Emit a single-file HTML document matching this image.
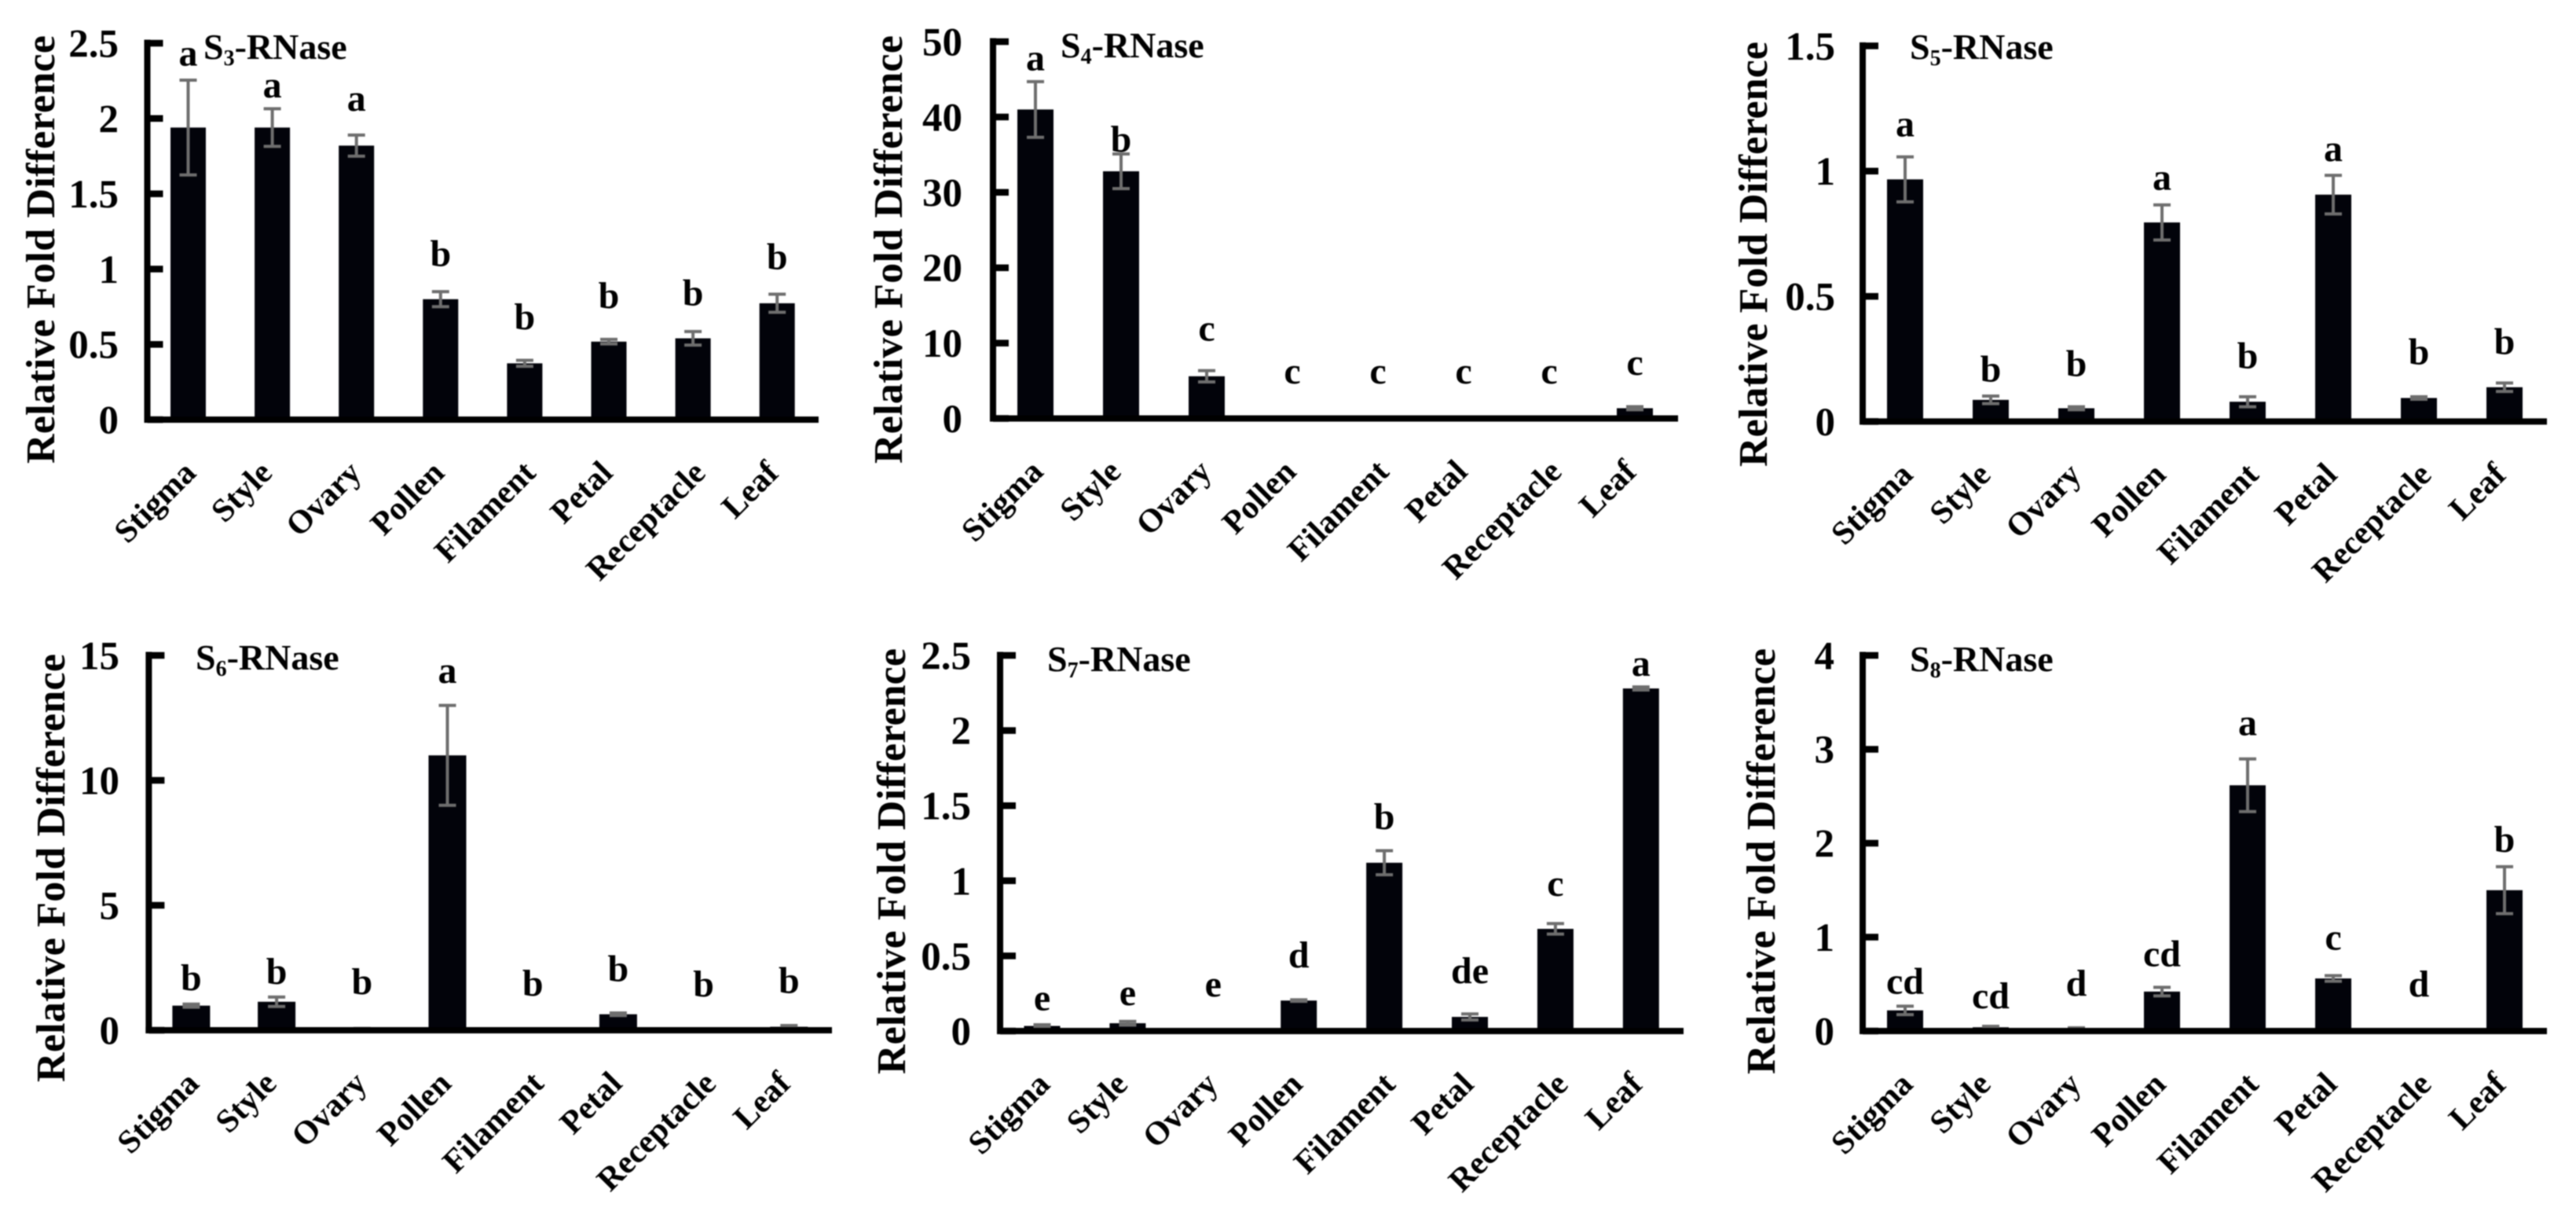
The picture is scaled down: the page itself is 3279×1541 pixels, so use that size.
<!DOCTYPE html>
<html lang="en">
<head>
<meta charset="utf-8">
<title>S-RNase relative expression across tissues</title>
<style>
  html, body { margin: 0; padding: 0; background: #fff; width: 3279px; height: 1541px; overflow: hidden; }
  svg { display: block; filter: blur(0.7px); }
  text { font-family: "Liberation Serif", "Times New Roman", serif; font-weight: bold; fill: #000; }
</style>
</head>
<body>
<svg id="fig" xmlns="http://www.w3.org/2000/svg" width="3279" height="1541" viewBox="0 0 3279 1541"></svg>
<script>
const categories = ["Stigma", "Style", "Ovary", "Pollen", "Filament", "Petal", "Receptacle", "Leaf"];

const s3Ticks = ["0", "0.5", "1", "1.5", "2", "2.5"];
const s3Values = [1.94, 1.94, 1.82, 0.80, 0.374, 0.518, 0.54, 0.773];
const s3Errors = [0.315, 0.125, 0.07, 0.05, 0.02, 0.015, 0.045, 0.06];
const s3Letters = ["a", "a", "a", "b", "b", "b", "b", "b"];
const s3LetterLevels = [2.35, 2.14, 2.05, 1.02, 0.60, 0.74, 0.76, 1.00];

const s4Ticks = ["0", "10", "20", "30", "40", "50"];
const s4Values = [41, 32.8, 5.6, 0, 0, 0, 0, 1.36];
const s4Errors = [3.7, 2.3, 0.75, 0, 0, 0, 0, 0.2];
const s4Letters = ["a", "b", "c", "c", "c", "c", "c", "c"];
const s4LetterLevels = [46.2, 35.4, 10.3, 4.64, 4.64, 4.64, 4.64, 5.8];

const s5Ticks = ["0", "0.5", "1", "1.5"];
const s5Values = [0.967, 0.0865, 0.053, 0.795, 0.079, 0.906, 0.094, 0.137];
const s5Errors = [0.09, 0.015, 0.006, 0.07, 0.02, 0.077, 0.005, 0.017];
const s5Letters = ["a", "b", "b", "a", "b", "a", "b", "b"];
const s5LetterLevels = [1.139, 0.159, 0.182, 0.926, 0.2125, 1.04, 0.228, 0.269];

const s6Ticks = ["0", "5", "10", "15"];
const s6Values = [0.985, 1.14, 0.06, 11.0, 0.03, 0.64, 0.01, 0.14];
const s6Errors = [0.06, 0.19, 0.01, 2.0, 0.01, 0.05, 0, 0.05];
const s6Letters = ["b", "b", "b", "a", "b", "b", "b", "b"];
const s6LetterLevels = [1.6, 1.86, 1.44, 13.9, 1.39, 1.96, 1.36, 1.49];

const s7Ticks = ["0", "0.5", "1", "1.5", "2", "2.5"];
const s7Values = [0.034, 0.052, 0.005, 0.203, 1.12, 0.094, 0.68, 2.28];
const s7Errors = [0.008, 0.012, 0, 0.005, 0.08, 0.02, 0.035, 0.01];
const s7Letters = ["e", "e", "e", "d", "b", "de", "c", "a"];
const s7LetterLevels = [0.138, 0.172, 0.229, 0.424, 1.344, 0.32, 0.90, 2.365];

const s8Ticks = ["0", "1", "2", "3", "4"];
const s8Values = [0.22, 0.04, 0.03, 0.42, 2.617, 0.56, 0, 1.5];
const s8Errors = [0.045, 0.01, 0.005, 0.045, 0.28, 0.03, 0, 0.25];
const s8Letters = ["cd", "cd", "d", "cd", "a", "c", "d", "b"];
const s8LetterLevels = [0.396, 0.242, 0.375, 0.692, 3.15, 0.867, 0.367, 1.908];

const panels = [
  { id: "s3", sub: "3", ticks: s3Ticks, values: s3Values, errors: s3Errors, letters: s3Letters, levels: s3LetterLevels,
    axisX: 187.5, top: 55, base: 534, right: 1042, first: 239.5, step: 107.1, barW: 45,
    tickLabelX: 151, titleX: 69, titleTop: 45, titleBottom: 590, nameX: 259, nameY: 75 },
  { id: "s4", sub: "4", ticks: s4Ticks, values: s4Values, errors: s4Errors, letters: s4Letters, levels: s4LetterLevels,
    axisX: 1264, top: 53, base: 532.5, right: 2136, first: 1318, step: 109, barW: 46,
    tickLabelX: 1225, titleX: 1148, titleTop: 45, titleBottom: 590, nameX: 1350, nameY: 73 },
  { id: "s5", sub: "5", ticks: s5Ticks, values: s5Values, errors: s5Errors, letters: s5Letters, levels: s5LetterLevels,
    axisX: 2371, top: 58.4, base: 536.4, right: 3242, first: 2425, step: 109, barW: 46,
    tickLabelX: 2336, titleX: 2249, titleTop: 53, titleBottom: 594, nameX: 2431, nameY: 75 },
  { id: "s6", sub: "6", ticks: s6Ticks, values: s6Values, errors: s6Errors, letters: s6Letters, levels: s6LetterLevels,
    axisX: 189.4, top: 834, base: 1311, right: 1059, first: 243.4, step: 108.7, barW: 48,
    tickLabelX: 152, titleX: 82, titleTop: 832, titleBottom: 1377, nameX: 249, nameY: 852 },
  { id: "s7", sub: "7", ticks: s7Ticks, values: s7Values, errors: s7Errors, letters: s7Letters, levels: s7LetterLevels,
    axisX: 1273, top: 834, base: 1312, right: 2143, first: 1326.5, step: 108.9, barW: 46,
    tickLabelX: 1236, titleX: 1152, titleTop: 825, titleBottom: 1367, nameX: 1333, nameY: 854 },
  { id: "s8", sub: "8", ticks: s8Ticks, values: s8Values, errors: s8Errors, letters: s8Letters, levels: s8LetterLevels,
    axisX: 2371, top: 834, base: 1312, right: 3242, first: 2425, step: 109, barW: 46,
    tickLabelX: 2335, titleX: 2259, titleTop: 825, titleBottom: 1367, nameX: 2431, nameY: 854 }
];

const labelNudge = [12, 2, 8, 7, 16, 7, 18, 4];
const NS = "http://www.w3.org/2000/svg";
const svg = document.getElementById("fig");

function mk(tag, attrs, parent, txt) {
  const el = document.createElementNS(NS, tag);
  for (const k in attrs) el.setAttribute(k, attrs[k]);
  if (txt !== undefined) el.textContent = txt;
  parent.appendChild(el);
  return el;
}

function drawPanel(p) {
  const maxV = parseFloat(p.ticks[p.ticks.length - 1]);
  const yOf = v => p.base - (v / maxV) * (p.base - p.top);
  const xOf = i => p.first + i * p.step;

  const g = mk("g", {}, svg);
  
  

  // y axis title
  const mid = (p.titleTop + p.titleBottom) / 2;
  const yTitle = mk("text", {
    x: p.titleX, y: mid, "text-anchor": "middle", "font-size": 52,
    textLength: p.titleBottom - p.titleTop, lengthAdjust: "spacing",
    transform: "rotate(-90 " + p.titleX + " " + mid + ")"
  }, g, "Relative Fold Difference");
  
  

  // gene name
  const name = mk("text", { x: p.nameX, y: p.nameY, "font-size": 46 }, g);
  
  
  mk("tspan", {}, name, "S");
  mk("tspan", { "font-size": 28, dy: 8 }, name, p.sub);
  mk("tspan", { dy: -8 }, name, "-RNase");

  // bars
  p.values.forEach((v, i) => {
    const bar = mk("rect", {
      x: xOf(i) - p.barW / 2, y: yOf(v), width: p.barW, height: p.base - yOf(v), fill: "#02030a"
    }, g);
    
    
  });

  // error bars
  p.errors.forEach((e, i) => {
    if (!(e > 0)) return;
    const v = p.values[i];
    const x = xOf(i);
    const err = mk("path", {
      d: "M" + x + " " + yOf(v - e) + "V" + yOf(v + e) +
         "M" + (x - 11) + " " + yOf(v + e) + "H" + (x + 11) +
         "M" + (x - 11) + " " + yOf(v - e) + "H" + (x + 11),
      stroke: "#6e6e6e", "stroke-width": 4, fill: "none"
    }, g);
    
    
  });

  // axes
  const yAxis = mk("line", { x1: p.axisX, x2: p.axisX, y1: p.top - 4.5, y2: p.base + 4, stroke: "#000", "stroke-width": 8 }, g);
  
  
  const xAxis = mk("line", { x1: p.axisX - 4, x2: p.right, y1: p.base, y2: p.base, stroke: "#000", "stroke-width": 8 }, g);
  
  

  // y ticks and labels
  p.ticks.forEach(t => {
    const y = yOf(parseFloat(t));
    const tick = mk("line", { x1: p.axisX, x2: p.axisX + 20, y1: y, y2: y, stroke: "#000", "stroke-width": 8.5 }, g);
    
    
    const lab = mk("text", { x: p.tickLabelX, y: y + 17.5, "text-anchor": "end", "font-size": 51 }, g, t);
    
    
  });

  // significance letters
  p.letters.forEach((l, i) => {
    const sig = mk("text", { x: xOf(i), y: yOf(p.levels[i]), "text-anchor": "middle", "font-size": 48 }, g, l);
    
    
  });

  // category labels
  categories.forEach((c, i) => {
    const ax = xOf(i) + labelNudge[i];
    const ay = p.base + 70;
    const lab = mk("text", {
      x: ax, y: ay, "text-anchor": "end", "font-size": 42,
      transform: "rotate(-45 " + ax + " " + ay + ")"
    }, g, c);
    
    
  });
}

panels.forEach(drawPanel);
</script>
</body>
</html>
